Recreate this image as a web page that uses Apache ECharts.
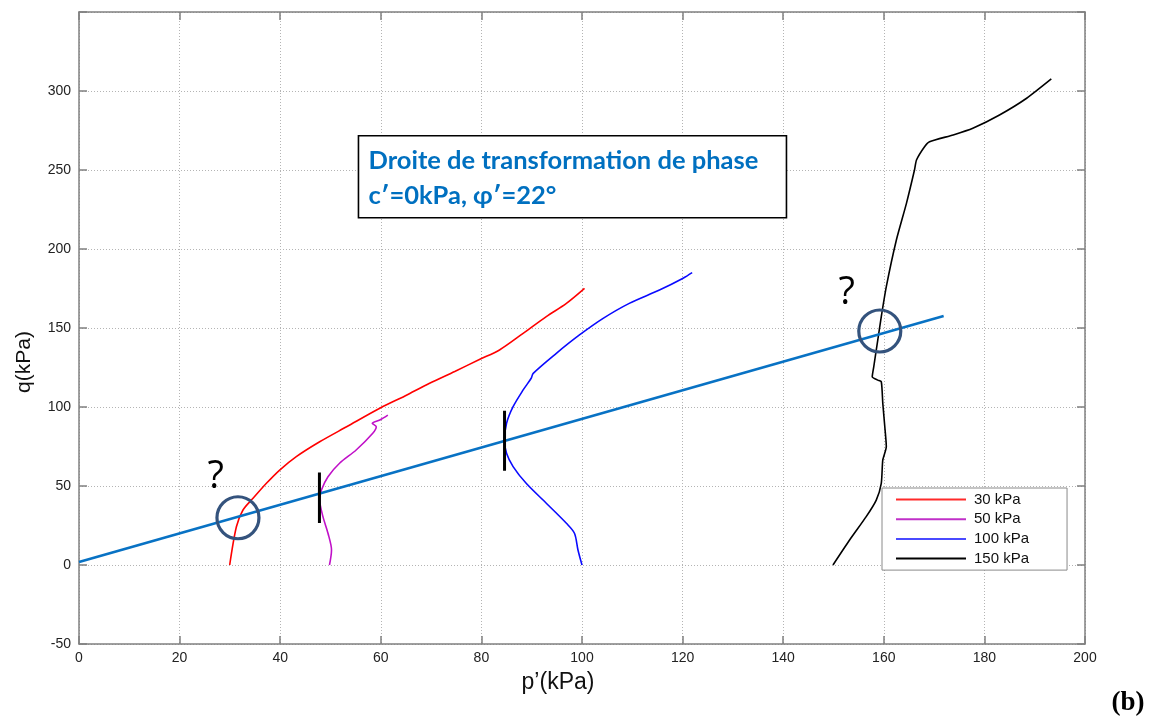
<!DOCTYPE html>
<html>
<head>
<meta charset="utf-8">
<script src="https://cdn.jsdelivr.net/npm/echarts@6/dist/echarts.min.js"></script>
<style>
html,body{margin:0;padding:0;background:#fff;}
#chart{width:1149px;height:719px;}
</style>
</head>
<body>
<div id="chart"></div>
<script>
// ---- data ----
const p30 = [29.96, 31.29, 32.6, 34.6, 37.26, 39.9, 43.2, 47.85, 53.2, 59.8, 64.8, 69.7, 74.7, 79.7, 83.6, 88.3, 92.9, 96.9, 100.5];
const q30 = [0, 24.2, 34.8, 42.2, 51.7, 60.1, 68.6, 78.0, 87.5, 99.2, 107.0, 115.0, 122.5, 130.2, 136.1, 146.6, 157.2, 165.6, 175.1];

const p50 = [49.8, 50.2, 49.5, 48.5, 47.85, 48.2, 49.5, 51.8, 55.1, 58.4, 59.1, 58.3, 59.8, 61.4];
const q50 = [0, 9.5, 20.1, 30.6, 41.1, 47.5, 55.9, 64.4, 72.8, 83.4, 87.5, 89.7, 91.8, 94.9];

const p100 = [100.0, 99.2, 98.5, 96.9, 92.9, 88.9, 86.3, 85.0, 84.6, 85.0, 86.3, 88.3, 89.9, 90.3, 94.9, 99.5, 104.2, 109.4, 115.4, 120.1, 121.9];
const q100 = [0, 9.5, 20.1, 26.4, 39.1, 51.7, 62.3, 70.7, 79.1, 89.7, 100.2, 110.8, 118.2, 121.3, 134.0, 145.6, 156.1, 165.6, 174.0, 181.5, 185.0];

const p150 = [149.9, 153.2, 156.5, 158.5, 159.5, 159.8, 160.5, 160.2, 159.8, 159.5, 158.8, 157.7, 158.0, 158.8, 159.5, 160.5, 162.5, 164.5, 166.1, 166.5, 168.1, 169.1, 173.8, 177.7, 183.0, 188.4, 193.3];
const q150 = [0, 15.8, 30.6, 41.1, 51.7, 66.5, 74.9, 87.5, 102.3, 116.0, 117.0, 119.1, 125.4, 142.4, 157.2, 176.2, 205.7, 228.9, 250.0, 256.3, 264.7, 267.9, 272.2, 276.4, 284.8, 295.4, 307.6];

const seriesNames = ['30 kPa', '50 kPa', '100 kPa', '150 kPa'];

const droiteP = [0, 171.9];
const droiteQ = [1.9, 157.6];

const markA_P = [47.8, 47.8];
const markA_Q = [26.6, 58.5];
const markB_P = [84.6, 84.6];
const markB_Q = [59.7, 97.7];

const circleP = [31.6, 159.2];
const circleQ = [29.9, 148.1];

const questP = [27.2, 152.6];
const questQ = [55.9, 172.0];

const xTicks = {min: 0, max: 200, interval: 20};
const yTicks = {min: -50, max: 350, interval: 50};

const annotLines = ['Droite de transformation de phase', 'c\u2032=0kPa, \u03c6\u2032=22\u00b0'];
const annotAnchor = [55.4, 272.2]; // data coords of box top-left
const xTitle = 'p\u2019(kPa)';
const yTitle = 'q(kPa)';
const panelTag = '(b)';

// ---- helpers ----
const zip = (a, b) => a.map((v, i) => [v, b[i]]);

const chart = echarts.init(document.getElementById('chart'), null, {renderer: 'canvas'});

const axisGray = '#808080';
const gridLine = {show: true, lineStyle: {color: '#b4b4b4', width: 1, type: [1, 2]}};

const option = {
  animation: false,
  backgroundColor: '#ffffff',
  grid: {left: 79, right: 64, top: 12, bottom: 75, containLabel: false},
  legend: {
    data: seriesNames,
    orient: 'vertical',
    left: 882, top: 488,
    padding: [4, 38, 4, 14],
    itemGap: 4.7,
    itemWidth: 70, itemHeight: 2,
    icon: 'rect',
    backgroundColor: '#ffffff',
    borderColor: '#8a8a8a', borderWidth: 1,
    textStyle: {fontFamily: 'Liberation Sans, Arial, sans-serif', fontSize: 15, lineHeight: 15, color: '#111', padding: [0, 0, 0, 3]}
  },
  xAxis: [{
    type: 'value', min: xTicks.min, max: xTicks.max, interval: xTicks.interval,
    position: 'bottom',
    axisLine: {show: true, onZero: false, lineStyle: {color: axisGray, width: 1.5}},
    axisTick: {show: true, inside: true, length: 8, lineStyle: {color: axisGray, width: 1.5}},
    axisLabel: {fontFamily: 'Liberation Sans, Arial, sans-serif', fontSize: 14, color: '#222', margin: 7},
    splitLine: gridLine
  }, {
    type: 'value', min: xTicks.min, max: xTicks.max, interval: xTicks.interval,
    position: 'top',
    axisLine: {show: true, onZero: false, lineStyle: {color: axisGray, width: 1.5}},
    axisTick: {show: true, inside: true, length: 8, lineStyle: {color: axisGray, width: 1.5}},
    axisLabel: {show: false},
    splitLine: {show: false}
  }],
  yAxis: [{
    type: 'value', min: yTicks.min, max: yTicks.max, interval: yTicks.interval,
    position: 'left',
    axisLine: {show: true, onZero: false, lineStyle: {color: axisGray, width: 1.5}},
    axisTick: {show: true, inside: true, length: 8, lineStyle: {color: axisGray, width: 1.5}},
    axisLabel: {fontFamily: 'Liberation Sans, Arial, sans-serif', fontSize: 14, color: '#222', margin: 8,
      formatter: v => (v === yTicks.max ? '' : String(v))},
    splitLine: gridLine
  }, {
    type: 'value', min: yTicks.min, max: yTicks.max, interval: yTicks.interval,
    position: 'right',
    axisLine: {show: true, onZero: false, lineStyle: {color: axisGray, width: 1.5}},
    axisTick: {show: true, inside: true, length: 8, lineStyle: {color: axisGray, width: 1.5}},
    axisLabel: {show: false},
    splitLine: {show: false}
  }],
  series: [
    {name: seriesNames[0], type: 'line', data: zip(p30, q30), showSymbol: false, symbol: 'none', smooth: 0.3,
     lineStyle: {color: '#ff0000', width: 1.6}, itemStyle: {color: '#ff2a2a'}},
    {name: seriesNames[1], type: 'line', data: zip(p50, q50), showSymbol: false, symbol: 'none', smooth: 0.3,
     lineStyle: {color: '#c010c8', width: 1.6}, itemStyle: {color: '#c030c8'}},
    {name: seriesNames[2], type: 'line', data: zip(p100, q100), showSymbol: false, symbol: 'none', smooth: 0.3,
     lineStyle: {color: '#0a0aff', width: 1.6}, itemStyle: {color: '#4a4aff'}},
    {name: seriesNames[3], type: 'line', data: zip(p150, q150), showSymbol: false, symbol: 'none', smooth: 0.2,
     lineStyle: {color: '#000000', width: 1.6}, itemStyle: {color: '#000000'}},
    {name: 'droite', type: 'line', data: zip(droiteP, droiteQ), showSymbol: false, symbol: 'none',
     lineStyle: {color: '#0872c4', width: 2.6}, z: 3},
    {name: 'markA', type: 'line', data: zip(markA_P, markA_Q), showSymbol: false, symbol: 'none',
     lineStyle: {color: '#000', width: 3}, z: 4},
    {name: 'markB', type: 'line', data: zip(markB_P, markB_Q), showSymbol: false, symbol: 'none',
     lineStyle: {color: '#000', width: 3}, z: 4},
    {name: 'circles', type: 'scatter', data: zip(circleP, circleQ), symbol: 'circle', symbolSize: 42,
     itemStyle: {color: 'rgba(0,0,0,0)', borderColor: '#34537d', borderWidth: 3.2, opacity: 1}, z: 5, silent: true}
  ]
};
chart.setOption(option);

function placeGraphics() {
  const tl = chart.convertToPixel({xAxisIndex: 0, yAxisIndex: 0}, annotAnchor);
  const boxW = 428, boxH = 82;
  const annotFont = 'bold 25.5px Lato, "Open Sans", sans-serif';
  const questMarks = questP.map((p, i) => {
    const px = chart.convertToPixel({xAxisIndex: 0, yAxisIndex: 0}, [p, questQ[i]]);
    return {type: 'text', x: px[0], y: px[1], z: 10,
      style: {text: '?', fill: '#000000', font: '38px "Open Sans", "Noto Sans", sans-serif',
              textAlign: 'center', textVerticalAlign: 'middle'}};
  });
  chart.setOption({
    graphic: [
      {type: 'group', left: tl[0], top: tl[1], z: 10, children: [
        {type: 'rect', shape: {x: 0, y: 0, width: boxW, height: boxH},
         style: {fill: '#ffffff', stroke: '#000000', lineWidth: 1.6}},
        {type: 'text', x: 10, y: 25, style: {text: annotLines[0], fill: '#0070c0',
          font: annotFont, textVerticalAlign: 'middle'}},
        {type: 'text', x: 10, y: 60, style: {text: annotLines[1], fill: '#0070c0',
          font: annotFont, textVerticalAlign: 'middle'}}
      ]},
      ...questMarks,
      {type: 'text', x: 24, y: 362, rotation: Math.PI / 2, z: 10,
       style: {text: yTitle, fill: '#111', font: '21px "Liberation Sans", Arial, sans-serif',
               textAlign: 'center', textVerticalAlign: 'middle'}},
      {type: 'text', x: 558, y: 683, z: 10,
       style: {text: xTitle, fill: '#111', font: '23px "Liberation Sans", Arial, sans-serif',
               textAlign: 'center', textVerticalAlign: 'middle'}},
      {type: 'text', x: 1128, y: 703, z: 10,
       style: {text: panelTag, fill: '#000', font: 'bold 27px "Liberation Serif", "Times New Roman", serif',
               textAlign: 'center', textVerticalAlign: 'middle'}}
    ]
  });
}
placeGraphics();
</script>
</body>
</html>
